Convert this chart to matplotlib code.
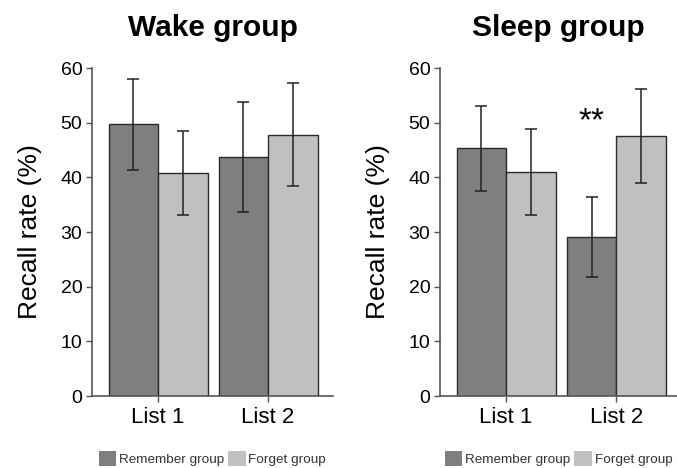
import numpy as np
import matplotlib
matplotlib.use("Agg")
import matplotlib.pyplot as plt
from matplotlib.patches import Patch

plt.rcParams["font.family"] = ["Liberation Sans", "DejaVu Sans"]

LISTS = ["List 1", "List 2"]
GROUPS = ["Remember group", "Forget group"]
PANELS = ["Wake group", "Sleep group"]

# means (%) and error bar ends (low, high)
wake_mean = {"Remember group": [49.7, 43.8], "Forget group": [40.8, 47.8]}
wake_lo = {"Remember group": [41.4, 33.7], "Forget group": [33.1, 38.4]}
wake_hi = {"Remember group": [57.9, 53.8], "Forget group": [48.4, 57.2]}
sleep_mean = {"Remember group": [45.3, 29.0], "Forget group": [41.0, 47.6]}
sleep_lo = {"Remember group": [37.5, 21.7], "Forget group": [33.2, 39.0]}
sleep_hi = {"Remember group": [53.1, 36.4], "Forget group": [48.9, 56.1]}

COLORS = {"Remember group": "#7f7f7f", "Forget group": "#c0c0c0"}
EDGE = "#2b2b2b"

fig = plt.figure(figsize=(6.77, 4.68), dpi=100)
ax_w = fig.add_axes([0.1359, 0.1538, 0.356, 0.7009])
ax_s = fig.add_axes([0.650, 0.1538, 0.350, 0.7009])

x = np.arange(1, 3)
bw = 0.45
for ax, title, m, lo, hi, xr in [
        (ax_w, "Wake group", wake_mean, wake_lo, wake_hi, 2.59),
        (ax_s, "Sleep group", sleep_mean, sleep_lo, sleep_hi, 2.55)]:
    for k, g in enumerate(GROUPS):
        xs = x + (k - 0.5) * bw
        vals = np.array(m[g])
        err = np.array([vals - np.array(lo[g]), np.array(hi[g]) - vals])
        ax.bar(xs, vals, width=bw, color=COLORS[g], edgecolor=EDGE, lw=1.0, zorder=2)
        ax.errorbar(xs, vals, yerr=err, fmt="none", ecolor="#222222",
                    elinewidth=1.1, capsize=4, capthick=1.1, zorder=3)
    ax.set_xlim(0.4, xr)
    ax.set_ylim(0, 60)
    ax.set_yticks(range(0, 61, 10))
    ax.set_xticks(x)
    ax.set_xticklabels(LISTS, fontsize=16)
    ax.tick_params(axis="y", labelsize=14, length=4, width=1, color="#555555", pad=3)
    ax.tick_params(axis="x", length=4, width=1, color="#555555", pad=4)
    for s in ["top", "right"]:
        ax.spines[s].set_visible(False)
    for s in ["left", "bottom"]:
        ax.spines[s].set_color("#555555")
        ax.spines[s].set_linewidth(1.2)
    ax.set_ylabel("Recall rate (%)", fontsize=19, labelpad=13)
    ax.set_title(title, fontsize=21.5, fontweight="bold", pad=23)
    handles = [Patch(facecolor=COLORS[g], edgecolor="none") for g in GROUPS]
    ax.legend(handles, GROUPS, loc="upper center", bbox_to_anchor=(0.5, -0.13),
              ncol=2, frameon=False, fontsize=9.7, handlelength=1.3, handleheight=1.4,
              handletextpad=0.2, columnspacing=0.3, labelcolor="#333333")

ax_s.text(x[1] - bw / 2, 50.2, "**", ha="center", va="center", fontsize=24)

fig.savefig("out.png", dpi=100)
